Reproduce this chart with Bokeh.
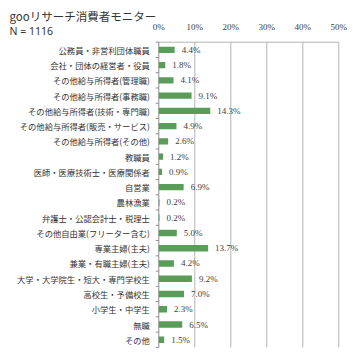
import math
from bokeh.plotting import figure
from bokeh.models import Range1d, Label, ColumnDataSource
from bokeh.embed import file_html
from bokeh.resources import INLINE

title = "gooリサーチ消費者モニター"
subtitle = "N = 1116"
categories = [
    "公務員・非営利団体職員",
    "会社・団体の経営者・役員",
    "その他給与所得者(管理職)",
    "その他給与所得者(事務職)",
    "その他給与所得者(技術・専門職)",
    "その他給与所得者(販売・サービス)",
    "その他給与所得者(その他)",
    "教職員",
    "医師・医療技術士・医療関係者",
    "自営業",
    "農林漁業",
    "弁護士・公認会計士・税理士",
    "その他自由業(フリーター含む)",
    "専業主婦(主夫)",
    "兼業・有職主婦(主夫)",
    "大学・大学院生・短大・専門学校生",
    "高校生・予備校生",
    "小学生・中学生",
    "無職",
    "その他",
]
values = [4.4, 1.8, 4.1, 9.1, 14.3, 4.9, 2.6, 1.2, 0.9, 6.9, 0.2, 0.2, 5.0, 13.7, 4.2, 9.2, 7.0, 2.3, 6.5, 1.5]
x_ticks = [0, 10, 20, 30, 40, 50]
x_tick_labels = ["0%", "10%", "20%", "30%", "40%", "50%"]

# layout (pixels)
W, H = 359, 355
LEFT, TOP = 158.3, 41.7
PX_X = 3.6          # pixels per percent
PX_Y = 15.26        # pixels per category row

n = len(categories)
x_max = x_ticks[-1]

p = figure(width=W, height=H, output_backend="svg", toolbar_location=None,
           x_range=Range1d(-LEFT / PX_X, (W - LEFT) / PX_X),
           y_range=Range1d((H - TOP) / PX_Y, -TOP / PX_Y),
           min_border=0)
p.axis.visible = False
p.grid.visible = False
p.outline_line_color = None
p.background_fill_color = "white"
p.border_fill_color = "white"

ys = [i + 0.5 for i in range(n)]
src = ColumnDataSource(dict(y=ys, v=values, lab=[f"{v:.1f}%" for v in values], cat=categories))

# gridlines
grid_x = x_ticks[1:]
p.segment(x0=grid_x, x1=grid_x, y0=[0] * len(grid_x), y1=[n] * len(grid_x),
          line_color="#b4b4b4", line_width=1)
# top line
p.segment(x0=[0], x1=[x_max], y0=[0], y1=[0], line_color="#b4b4b4", line_width=1)
# left axis line and ticks between categories
p.segment(x0=[0], x1=[0], y0=[0], y1=[n], line_color="#8c8c8c", line_width=1)
p.ray(x=[0] * (n + 1), y=list(range(n + 1)), length=3, length_units="screen",
      angle=math.pi, line_color="#8c8c8c", line_width=1)

# bars
p.hbar(y="y", right="v", left=0, height=0.42, source=src, color="#5a9c5a", line_color=None)

# value labels
p.text(x="v", y="y", text="lab", source=src, x_offset=7, text_baseline="middle",
       text_font={"value": "Liberation Serif"}, text_font_size="9px", text_color="#404040")

# category labels
p.text(x=0, y="y", text="cat", source=src, x_offset=-9, text_align="right", text_baseline="middle",
       text_font={"value": "Noto Sans CJK JP"}, text_font_size="8.3px", text_color="#333333")

# x tick labels (top)
p.text(x=x_ticks, y=[0] * len(x_ticks), text=x_tick_labels, y_offset=-15,
       text_align="center", text_baseline="middle",
       text_font={"value": "Liberation Serif"}, text_font_size="9px", text_color="#404040")

# titles
p.add_layout(Label(x=9, y=H - 15, x_units="screen", y_units="screen", text=title,
                   text_font="Noto Sans CJK JP", text_font_size="11.5px", text_color="#333333",
                   text_baseline="middle"))
p.add_layout(Label(x=9, y=H - 30.5, x_units="screen", y_units="screen", text=subtitle,
                   text_font="Noto Sans", text_font_size="10.5px", text_color="#333333",
                   text_baseline="middle"))

open("out.html", "w").write(file_html(p, INLINE))
